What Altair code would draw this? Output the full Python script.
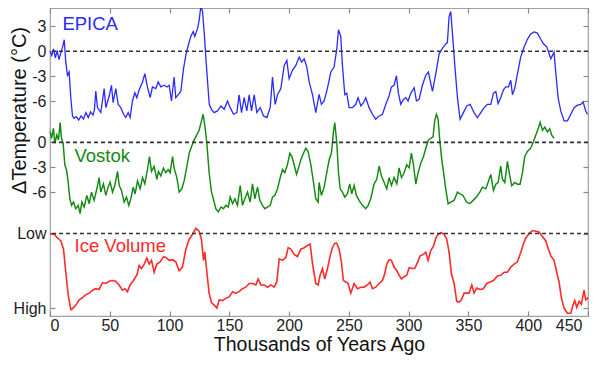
import json
import altair as alt
import pandas as pd

# ---------------- data ----------------
epica_age = [0, 1.5, 3, 4.5, 6, 7.5, 9, 10.5, 11.9, 13.2, 14.6, 16, 17.4, 18.8, 20, 22, 24, 26, 28, 30,
             32, 34, 36, 37.2, 38.3, 39.7, 42.5, 45.3, 46.7, 49.5, 51.4, 52.8, 55, 57, 59.2, 61.5, 63.4, 65.4, 67, 69,
             71, 72.6, 74.6, 77.4, 79.3, 81.5, 83.8, 85.7, 88.5, 90.5, 92.7, 95.5, 97.7, 99.7, 101.6, 103.8, 105.2, 107.5, 109.4, 111.7,
             113.6, 115.6, 117.8, 119.8, 121.1, 123.5, 124.8, 126.2, 127.6, 129, 131.2, 133.2, 135.1, 137.3, 140.1, 143, 145.7, 148.5, 150.7, 153.5,
             156.3, 158.2, 160.2, 162.4, 164.6, 166.6, 168.5, 170.8, 173, 175.8, 178.6, 181.4, 184.2, 186.1, 188.3, 190.3, 193.1, 195.9, 198.1, 200,
             202.8, 205.6, 208.4, 210.4, 212.6, 214.8, 216.8, 219.6, 222.3, 225.1, 227, 229.3, 232, 234.9, 237.6, 239.9, 241.3, 243.2, 244.6, 246.6,
             248.2, 250.2, 253, 255.8, 257.7, 260, 262.2, 264.1, 266.9, 269.7, 272.5, 275.3, 278.1, 280.9, 283.6, 285.6, 287.8, 289.8, 291.4, 293.4,
             295.6, 297.6, 299.5, 301.8, 304.6, 306.5, 308.7, 311.5, 314.3, 316.5, 319.9, 322.7, 325.5, 328.2, 331, 332.4, 333.8, 335.2, 336.6, 338.6,
             340.8, 343, 345.8, 348.6, 351.4, 354.7, 357.5, 360.3, 363.1, 365.9, 368.7, 370.9, 372.9, 374.8, 377, 379.3, 381.2, 383.5, 385.4, 386.8,
             388.7, 391, 393.7, 396.5, 399.3, 402.1, 404.9, 407.7, 410.5, 412.7, 415.5, 417.5, 418.9, 421.6, 423, 425, 427.2, 430, 432.8, 435.6,
             438.4, 441.2, 444, 445.9, 448.1, 449.5]
epica_temp = [0.0, -0.5, 0.3, -0.8, 0.1, -1.0, -0.2, 0.5, 1.4, -1.3, -2.9, -2.5, -5.6, -7.8, -8.1, -7.9, -8.3, -7.8, -8.2, -7.4,
              -8.0, -7.3, -7.7, -7.0, -4.8, -6.8, -7.4, -4.5, -6.8, -5.4, -4.1, -6.2, -4.5, -6.4, -6.8, -7.6, -8.0, -7.4, -8.0, -6.0,
              -5.0, -5.6, -4.65, -3.7, -2.7, -4.3, -5.6, -4.3, -4.5, -3.7, -4.3, -4.1, -4.3, -4.1, -6.0, -3.1, -5.6, -5.2, -4.85, -2.1,
              -0.5, 0.7, 1.8, 2.4, 1.8, 2.8, 3.8, 5.5, 4.8, 2.2, -2.5, -6.4, -7.0, -7.4, -7.2, -6.6, -7.0, -6.0, -6.8, -7.6,
              -7.4, -5.25, -7.4, -5.6, -7.2, -5.25, -7.2, -5.25, -7.4, -6.8, -7.8, -8.0, -6.8, -3.1, -6.4, -5.25, -4.5, -1.7, -1.1, -3.3,
              -2.3, -1.7, -0.7, -1.3, -0.9, -1.9, -3.7, -5.25, -7.4, -5.2, -6.4, -6.0, -4.5, -2.5, -1.9, 0.3, 2.6, 1.8, -1.7, -5.25,
              -5.05, -6.8, -6.8, -6.4, -5.6, -6.6, -6.2, -5.6, -6.8, -7.6, -8.2, -7.8, -7.6, -6.4, -5.4, -4.3, -4.1, -2.95, -5.05, -6.4,
              -5.8, -5.6, -6.0, -5.05, -4.4, -6.0, -5.8, -4.1, -2.9, -2.5, -4.85, -2.7, -0.3, 0.35, 0.9, 1.05, 4.2, 4.8, 2.2, -1.7,
              -5.6, -8.2, -7.4, -6.6, -6.4, -7.4, -8.0, -7.4, -6.8, -6.4, -6.4, -5.05, -4.85, -6.3, -5.6, -4.65, -4.3, -4.3, -3.5, -5.25,
              -4.5, -2.7, -0.7, 0.5, 1.45, 2.1, 2.35, 2.2, 1.45, 0.9, 0.55, -0.3, -0.9, -0.1, -2.5, -5.6, -7.2, -8.4, -8.4, -7.6,
              -6.8, -6.5, -6.4, -6.1, -7.2, -7.6]

vostok_age = [0.1, 1.3, 2.9, 4, 5.7, 7.1, 8.5, 9.6, 11, 12.4, 13.8, 15.2, 16.6, 18, 19.6, 21.6, 23.6, 25.2, 26.6, 28.6,
              30.8, 32.8, 34.7, 36.9, 39.2, 41.1, 42.5, 44.7, 46.7, 48.6, 50.3, 52.3, 54.2, 56.5, 57.9, 59.8, 62, 64, 65.9, 67.6,
              69.6, 71.2, 73.2, 75.4, 77.4, 79.3, 81.5, 83.2, 84.9, 87.1, 89.4, 90.7, 92.7, 94.9, 96.9, 98.8, 100.5, 102.5, 103.8, 106.1,
              108, 110.3, 112.2, 114.5, 116.4, 118.4, 120.6, 122.8, 124.8, 126.7, 128.1, 129.5, 131.2, 133.1, 135.1, 137.3, 138.7, 140.7, 143, 145.1,
              147.1, 149.1, 150.7, 152.7, 154.6, 156.8, 159.1, 161, 163, 165.2, 167.4, 169.4, 171.3, 173.6, 175.5, 177.7, 179.7, 181.9, 184.2, 186.1,
              188, 190.3, 192.2, 194.5, 196.4, 198.6, 200.6, 202.3, 204.2, 206.2, 207.8, 209.8, 212, 214, 215.9, 218.2, 220.4, 222.3, 224.3, 225.1,
              227, 229.3, 231.5, 233.5, 235.4, 237.1, 238.2, 239.9, 241.3, 242.7, 244.6, 246.6, 248.8, 250.7, 252.4, 254.4, 256.3, 258.5, 261.3, 264.1,
              266.1, 268.3, 271.1, 273.3, 275.3, 277.2, 279.5, 281.7, 283.6, 285.6, 287.8, 290.1, 292, 294, 296.2, 298.4, 300.4, 302.3, 304, 306,
              307.9, 310.1, 312.4, 314.3, 316.5, 318.5, 320.4, 321.8, 323.2, 324.6, 326, 327.7, 329.6, 331, 333, 335.2, 338, 340.8, 343, 345.5,
              348.3, 351.1, 353.9, 356.7, 359.5, 361.7, 364.5, 366.4, 368.7, 370.9, 372.9, 374.8, 377, 378.4, 380.4, 382.6, 384.6, 386.2, 388.7, 391,
              393.2, 395.2, 397.1, 399.3, 402.1, 404.4, 406.3, 408.3, 410, 411.9, 413.8, 416.1, 418, 419.7, 421.6]
vostok_temp = [1.3, 0.5, 1.7, -0.1, 0.9, 0.3, 2.4, 0.5, -0.1, -2.7, -3.3, -4.8, -6.8, -7.6, -7.2, -8.0, -7.6, -8.6, -7.2, -7.8,
               -6.4, -7.4, -6.0, -7.0, -5.6, -4.25, -6.0, -5.0, -6.4, -5.4, -4.8, -6.0, -5.2, -3.5, -5.2, -5.8, -7.2, -6.6, -7.6, -6.8,
               -5.4, -6.2, -4.65, -5.6, -4.25, -5.0, -3.3, -1.7, -3.5, -2.9, -4.45, -3.5, -4.05, -3.1, -3.66, -3.27, -3.66, -1.7, -3.1, -4.25,
               -6.0, -5.6, -4.65, -2.9, -1.3, -0.5, 0.3, 0.9, 1.5, 2.6, 3.4, 2.0, -0.1, -3.66, -6.0, -7.2, -8.0, -8.4, -7.8, -8.0,
               -7.6, -7.8, -6.6, -7.4, -6.8, -7.6, -5.2, -7.6, -6.8, -6.0, -7.2, -5.0, -6.8, -5.4, -7.0, -7.6, -8.0, -7.8, -7.6, -6.6,
               -6.4, -5.6, -4.45, -3.27, -3.66, -2.7, -1.3, -1.7, -2.7, -3.86, -3.1, -2.1, -1.3, -0.7, -1.1, -2.7, -4.84, -6.8, -7.2, -4.84,
               -6.4, -5.4, -3.66, -2.1, -1.3, 1.3, 2.4, -0.1, -3.66, -5.6, -6.0, -6.6, -6.2, -5.0, -6.2, -5.2, -6.4, -7.0, -7.6, -8.0,
               -7.6, -6.8, -5.0, -4.45, -2.87, -4.05, -4.84, -5.6, -4.25, -5.2, -4.25, -5.0, -3.07, -4.25, -3.66, -2.7, -3.07, -1.3, -2.7, -5.04,
               -3.66, -2.5, -1.7, -0.7, 0.3, 0.5, 0.67, 2.64, 3.4, 2.8, 0.3, -2.1, -4.05, -5.6, -7.4, -7.2, -7.0, -6.0, -6.2, -6.4,
               -7.2, -7.4, -7.0, -6.6, -6.0, -5.4, -5.6, -4.84, -3.86, -5.8, -5.04, -4.84, -2.87, -4.45, -4.84, -2.28, -4.05, -5.24, -4.84, -5.04,
               -5.04, -3.66, -1.7, -1.1, -0.7, 0.1, 0.87, 1.65, 2.44, 1.46, 1.85, 1.26, 1.65, 0.87, 0.48]

# relative ice volume: 0 = Low, 1 = High
ice_age = [0, 3.5, 6.3, 9.1, 11.3, 13.2, 15.2, 17.4, 18.8, 21.6, 24.4, 27.2, 30, 32.8, 35.6, 38.3, 41.1, 43.9, 46.7, 49.5,
           52.3, 55, 57.8, 60.6, 62.6, 64.8, 67, 69.8, 72.6, 74.6, 76.5, 78.8, 81, 83, 84.9, 87.1, 89.4, 92.1, 94.9, 96.9,
           99.7, 102.5, 105.2, 108, 110.8, 113.6, 116.4, 119.2, 122, 124.8, 126.7, 128.4, 129.5, 131.2, 133.1, 135.1, 137.3, 139.6, 141.5, 144.3,
           147.1, 149.9, 152.7, 155.4, 158.2, 161, 163.8, 166.6, 169.4, 172.2, 174.1, 176.4, 179.2, 182, 184.7, 187.5, 189.7, 191.7, 194.5, 197.3,
           199.2, 201.4, 204.2, 207, 209.8, 212.6, 215.4, 217.6, 219.6, 222.3, 224.3, 225.9, 227.9, 229.8, 232.1, 234.3, 236.2, 238.2, 239.9, 241.8,
           243.8, 245.4, 247.4, 249.3, 251.6, 254.4, 257.2, 260, 262.7, 265.5, 267.7, 269.7, 272.5, 275.3, 278.1, 280, 281.7, 283.6, 285.6, 287.8,
           290.1, 292, 294, 296.2, 298.4, 300.4, 303.2, 305.1, 307.3, 309.6, 312.4, 314.3, 316.3, 318.5, 320.7, 322.7, 324.6, 327.4, 329.6, 331.9,
           333.8, 335.8, 338, 340.2, 342.2, 344.1, 346.4, 348.6, 350.5, 352.8, 354.7, 357, 359.8, 362.5, 365.3, 368.1, 370.9, 374.3, 377, 379.8,
           382.6, 385.4, 388.2, 391, 393.8, 396, 397.9, 400.7, 403.5, 406.3, 409.1, 411.9, 414.7, 416.9, 418.9, 421.6, 423.9, 425.8, 427.8, 430,
           432.8, 435.6, 437.5, 438.9, 440.6, 442.6, 444.5, 446.7, 448.1, 450]
ice_rel = [0.0, 0.01, 0.06, 0.1, 0.21, 0.52, 0.82, 1.02, 1.01, 0.96, 0.89, 0.86, 0.82, 0.8, 0.76, 0.74, 0.75, 0.66, 0.67, 0.64,
           0.63, 0.64, 0.69, 0.76, 0.74, 0.78, 0.69, 0.63, 0.56, 0.43, 0.47, 0.41, 0.33, 0.41, 0.36, 0.52, 0.41, 0.38, 0.31, 0.32,
           0.36, 0.35, 0.38, 0.5, 0.45, 0.21, 0.08, 0.01, -0.07, -0.03, 0.08, 0.36, 0.25, 0.52, 0.8, 0.93, 0.96, 1.0, 0.89, 0.9,
           0.87, 0.85, 0.78, 0.8, 0.78, 0.74, 0.72, 0.67, 0.67, 0.69, 0.61, 0.69, 0.69, 0.72, 0.69, 0.72, 0.65, 0.34, 0.36, 0.32,
           0.19, 0.21, 0.28, 0.31, 0.21, 0.19, 0.16, 0.14, 0.41, 0.67, 0.69, 0.56, 0.47, 0.61, 0.47, 0.3, 0.19, 0.13, 0.13, 0.21,
           0.39, 0.63, 0.65, 0.67, 0.8, 0.67, 0.74, 0.72, 0.72, 0.69, 0.65, 0.74, 0.72, 0.67, 0.63, 0.54, 0.41, 0.35, 0.36, 0.45,
           0.5, 0.56, 0.61, 0.58, 0.56, 0.46, 0.47, 0.47, 0.39, 0.3, 0.28, 0.25, 0.36, 0.23, 0.17, 0.06, 0.01, -0.01, 0.01, 0.08,
           0.25, 0.54, 0.67, 0.91, 0.92, 0.89, 0.8, 0.8, 0.8, 0.69, 0.8, 0.73, 0.75, 0.74, 0.67, 0.65, 0.63, 0.57, 0.56, 0.52,
           0.52, 0.45, 0.41, 0.38, 0.25, 0.14, 0.06, 0.0, -0.04, -0.03, -0.02, 0.04, 0.1, 0.21, 0.3, 0.36, 0.52, 0.65, 0.87, 1.0,
           1.07, 1.07, 0.96, 0.9, 0.99, 0.91, 0.95, 0.76, 0.89, 0.86]

series_names = ["EPICA", "Vostok", "Ice Volume"]
series_colors = ["#2a2aff", "#128a12", "#ff2a2a"]
series_widths = [1.3, 1.6, 1.2]

x_tick_values = [0, 50, 100, 150, 200, 250, 300, 350, 400, 450]

# vertical stacking of the three panels on one shared axis
VOSTOK_SHIFT = -11
ICE_LOW = -22
ICE_HIGH = -31
y_tick_values = [3, 0, -3, -6, 0 + VOSTOK_SHIFT, -3 + VOSTOK_SHIFT, -6 + VOSTOK_SHIFT, ICE_LOW, ICE_HIGH]
y_tick_text = ["3", "0", "-3", "-6", "0", "-3", "-6", "Low", "High"]
zero_lines = [0, VOSTOK_SHIFT, ICE_LOW]

label_age = [10.4, 20.5, 20.5]
label_pos = [2.63, -13.31, -24.2]

# ---------------- tables ----------------
df = pd.concat([
    pd.DataFrame({"age": epica_age, "y": epica_temp, "series": "EPICA"}),
    pd.DataFrame({"age": vostok_age, "y": [t + VOSTOK_SHIFT for t in vostok_temp], "series": "Vostok"}),
    pd.DataFrame({"age": ice_age, "y": [ICE_LOW + (ICE_HIGH - ICE_LOW) * v for v in ice_rel], "series": "Ice Volume"}),
], ignore_index=True)
rules_df = pd.DataFrame({"y": zero_lines})
labels_df = pd.DataFrame({"age": label_age, "y": label_pos, "series": series_names})

FONT = "Liberation Sans"
xs = alt.Scale(domain=[0, 450], nice=False, zero=False)
ys = alt.Scale(domain=[-31.96, 5.23], nice=False, zero=False)
cs = alt.Scale(domain=series_names, range=series_colors)
ws = alt.Scale(domain=series_names, range=series_widths)

label_expr = "%s[indexof(%s, datum.value)]" % (json.dumps(y_tick_text), json.dumps(y_tick_values))

lines = alt.Chart(df).mark_line().encode(
    x=alt.X("age:Q", scale=xs, axis=alt.Axis(
        orient="bottom", values=x_tick_values, ticks=False, tickSize=0, domain=False, grid=False,
        labelFontSize=16, labelPadding=14, labelBaseline="alphabetic", labelColor="#222",
        labelOffset={"condition": {"test": "datum.value == 450", "value": -6}, "value": 0},
        title="Thousands of Years Ago", titleFontSize=19.5, titleY=34.5, titleBaseline="alphabetic",
        titleFontWeight="normal", titleColor="#111")),
    y=alt.Y("y:Q", scale=ys, axis=alt.Axis(
        orient="left", values=y_tick_values, labelExpr=label_expr, ticks=False, tickSize=0,
        domain=False, grid=False, labelFontSize=16, labelPadding=4, labelColor="#222",
        labelBaseline="middle",
        title="ΔTemperature (°C)", titleFontSize=20, titleAngle=270, titleX=-25, titleY=102,
        titleAlign="center", titleBaseline="alphabetic", titleFontWeight="normal", titleColor="#111")),
    color=alt.Color("series:N", scale=cs, legend=None),
    strokeWidth=alt.StrokeWidth("series:N", scale=ws, legend=None),
)

tick_style = dict(labels=False, domain=False, grid=False, ticks=True, tickSize=5, offset=-5,
                  tickColor="#8a8a8a", tickWidth=1.2, title=None)

ticks_tr = alt.Chart(df).mark_line(strokeOpacity=0).encode(
    x=alt.X("age:Q", scale=xs, axis=alt.Axis(orient="top", values=x_tick_values, **tick_style)),
    y=alt.Y("y:Q", scale=ys, axis=alt.Axis(orient="right", values=y_tick_values, **tick_style)),
    detail="series:N",
)
ticks_bl = alt.Chart(df).mark_line(strokeOpacity=0).encode(
    x=alt.X("age:Q", scale=xs, axis=alt.Axis(orient="bottom", values=x_tick_values, **tick_style)),
    y=alt.Y("y:Q", scale=ys, axis=alt.Axis(orient="left", values=y_tick_values, **tick_style)),
    detail="series:N",
)

rules = alt.Chart(rules_df).mark_rule(strokeDash=[4, 3], color="#333333", strokeWidth=1.6).encode(
    y=alt.Y("y:Q", scale=ys, axis=None)
)

texts = alt.Chart(labels_df).mark_text(align="left", baseline="alphabetic", fontSize=18.5, font=FONT).encode(
    x=alt.X("age:Q", scale=xs, axis=None),
    y=alt.Y("y:Q", scale=ys, axis=None),
    text="series:N",
    color=alt.Color("series:N", scale=cs, legend=None),
)

chart = alt.layer(ticks_tr, ticks_bl, lines, rules, texts).resolve_axis(
    x="independent", y="independent"
).properties(
    width=538, height=308,
    autosize=alt.AutoSizeParams(type="none"),
    padding={"left": 42, "top": 0, "right": 8, "bottom": 39},
).configure_view(
    stroke="#a0a0a0", strokeWidth=1.2
).configure_axis(
    labelFont=FONT, titleFont=FONT
)

chart.save("out.html", embed_options={"renderer": "svg", "actions": False})
